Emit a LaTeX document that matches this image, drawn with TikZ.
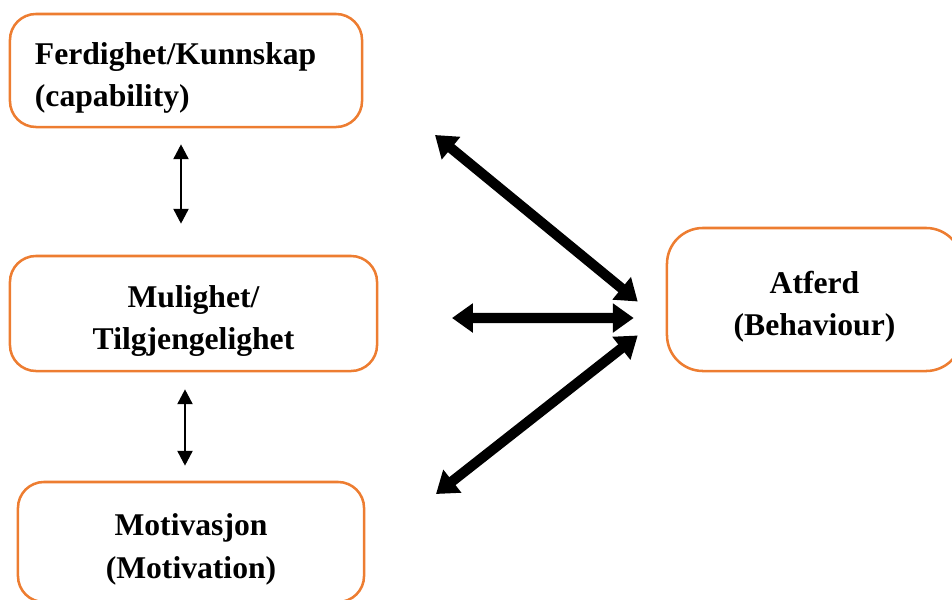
\documentclass[tikz,border=0pt]{standalone}
\usepackage{fontspec}
\setmainfont{Liberation Serif}
\usepackage{tikz}
\usetikzlibrary{positioning, arrows.meta, calc}
\definecolor{boxorange}{HTML}{ED7D31}
\newcommand{\topgap}{\rule{0pt}{26pt}}
\tikzset{main node/.style={draw=boxorange, line width=1.8pt, rounded corners=0.65cm, align=center, inner sep=0pt, font=\fontsize{22.5}{30}\selectfont\bfseries},
small arrow/.style={{Triangle[length=0.37cm,width=0.37cm]}-{Triangle[length=0.37cm,width=0.37cm]}, line width=1.8pt},
big arrow/.style={{Triangle[length=0.52cm,width=0.7cm]}-{Triangle[length=0.52cm,width=0.7cm]}, line width=7.2pt},}

\begin{document}
\begin{tikzpicture}[x=0.025cm, y=-0.025cm]
        \useasboundingbox (0,0) rectangle (952,599);
        \clip (0,0) rectangle (952,599);
        % Boxes
        \node[main node, minimum width=8.8cm, minimum height=2.825cm, text width=7.55cm, align=left] (cap) at (186,70.5) {\topgap Ferdighet/Kunnskap\\(capability)};
        \node[main node, minimum width=9.175cm, minimum height=2.875cm] (mul) at (193.5,313.5) {\topgap Mulighet/\\Tilgjengelighet};
        \node[main node, minimum width=8.65cm, minimum height=3cm] (mot) at (191,542) {\topgap Motivasjon\\(Motivation)};
        \node[main node, minimum width=7.375cm, minimum height=3.575cm, rounded corners=0.9cm] (atf) at (814.5,299.5) {\topgap Atferd\\(Behaviour)};
        % Free ends
        \coordinate (c1) at (435,135);
        \coordinate (c2) at (452,318);
        \coordinate (c3) at (436,494);
        \coordinate (h1) at ($(atf.west)+(-28,2)$);
        \coordinate (h2) at ($(atf.west)+(-32,18.5)$);
        \coordinate (h3) at ($(atf.west)+(-28,36)$);
        % Arrows
        \draw[small arrow] ($(cap.south)+(-5,16)$) -- ($(mul.north)+(-12.5,-31)$);
        \draw[small arrow] ($(mul.south)+(-8.5,17)$) -- ($(mot.north)+(-6,-15)$);
        \draw[big arrow] (c1) -- (h1);
        \draw[big arrow] (c2) -- (h2);
        \draw[big arrow] (c3) -- (h3);
    \end{tikzpicture}
\end{document}
